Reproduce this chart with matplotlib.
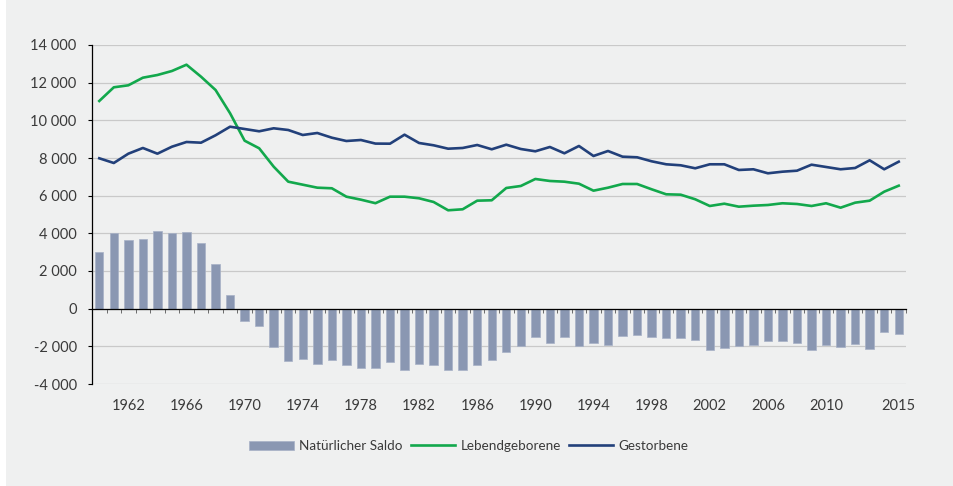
import matplotlib
matplotlib.use("Agg")
import matplotlib.pyplot as plt
from matplotlib.ticker import FuncFormatter, FixedLocator
from matplotlib.patches import Rectangle
import numpy as np

years = list(range(1960, 2016))

saldo = [3026, 4018, 3628, 3716, 4141, 3999, 4070, 3469, 2389, 726,
         -637, -938, -2053, -2761, -2655, -2920, -2726, -2991, -3167, -3150,
         -2814, -3274, -2938, -3008, -3256, -3256, -2973, -2708, -2301, -1964,
         -1487, -1823, -1522, -2000, -1841, -1947, -1469, -1398, -1487, -1575,
         -1575, -1646, -2212, -2088, -1964, -1929, -1717, -1717, -1805, -2194,
         -1911, -2035, -1858, -2141, -1239, -1327]

lebendgeborene = [11027, 11754, 11860, 12264, 12407, 12620, 12954, 12317, 11611, 10374,
                  8919, 8516, 7539, 6743, 6583, 6424, 6392, 5946, 5787, 5600,
                  5946, 5946, 5861, 5665, 5224, 5277, 5734, 5755, 6408, 6514,
                  6886, 6780, 6742, 6636, 6265, 6424, 6620, 6620, 6339, 6073,
                  6052, 5808, 5452, 5574, 5415, 5468, 5505, 5596, 5558, 5452,
                  5596, 5362, 5628, 5734, 6211, 6530]

gestorbene = [7985, 7735, 8229, 8532, 8229, 8600, 8850, 8813, 9206, 9662,
              9540, 9418, 9577, 9487, 9222, 9328, 9078, 8903, 8956, 8765,
              8760, 9238, 8797, 8675, 8494, 8532, 8691, 8463, 8707, 8478,
              8356, 8585, 8250, 8638, 8107, 8372, 8070, 8038, 7825, 7666,
              7613, 7454, 7666, 7666, 7364, 7401, 7188, 7273, 7326, 7645,
              7523, 7401, 7470, 7879, 7401, 7804]

xtick_labels = ["1962", "1966", "1970", "1974", "1978", "1982", "1986", "1990",
                "1994", "1998", "2002", "2006", "2010", "2015"]
yticks = [-4000, -2000, 0, 2000, 4000, 6000, 8000, 10000, 12000, 14000]

BG = "#eff0f0"
BAR = "#8a97b2"
GREEN = "#12a84c"
NAVY = "#22407a"
TXT = "#3a3a3a"

plt.rcParams["font.family"] = ["Lato", "DejaVu Sans"]

fig = plt.figure(figsize=(9.54, 4.86), dpi=100, facecolor=BG)
fig.patches.append(Rectangle((0, 0), 6 / 954, 1, transform=fig.transFigure,
                             facecolor="white", edgecolor="none", zorder=-1))
ax = fig.add_axes([92 / 954, 1 - 384 / 486, (906 - 92) / 954, (384 - 45) / 486])
ax.set_facecolor(BG)

x = np.arange(len(years))
h_bar = ax.bar(x, saldo, width=0.58, color=BAR, edgecolor="#a7b1c6", linewidth=0.5,
               label="Natürlicher Saldo", zorder=3)
h_g, = ax.plot(x, lebendgeborene, color=GREEN, lw=1.9, label="Lebendgeborene", zorder=4)
h_n, = ax.plot(x, gestorbene, color=NAVY, lw=1.9, label="Gestorbene", zorder=4)

ax.set_xlim(-0.5, len(years) - 0.5)
ax.set_ylim(-4000, 14000)
ax.set_yticks(yticks)
ax.yaxis.set_major_formatter(FuncFormatter(lambda v, p: f"{v:,.0f}".replace(",", " ")))
ax.grid(axis="y", color="#c9c9c9", lw=0.9, zorder=0)
ax.tick_params(axis="y", direction="out", length=3, width=0.8, color="black",
               pad=8, labelsize=10.5, labelcolor=TXT)

for s in ["top", "right"]:
    ax.spines[s].set_visible(False)
ax.spines["left"].set_color("black")
ax.spines["left"].set_linewidth(0.9)
ax.spines["bottom"].set_position(("data", 0))
ax.spines["bottom"].set_color("black")
ax.spines["bottom"].set_linewidth(0.9)
ax.spines["bottom"].set_zorder(5)

# category boundary ticks on zero line
ax.xaxis.set_major_locator(FixedLocator(np.arange(-0.5, len(years), 1.0)))
ax.tick_params(axis="x", direction="out", length=3, width=0.6, color="#555555",
               labelbottom=False)

# labels at category centers along the bottom
lab_pos = [years.index(int(t)) for t in xtick_labels]
sec = ax.secondary_xaxis(0.0)
sec.set_xticks(lab_pos)
sec.set_xticklabels(xtick_labels)
sec.tick_params(length=0, pad=11, labelsize=10.5, labelcolor=TXT)
sec.spines["bottom"].set_visible(False)

fig.legend(handles=[h_bar, h_g, h_n],
           labels=["Natürlicher Saldo", "Lebendgeborene", "Gestorbene"],
           loc="center", bbox_to_anchor=(469 / 954, 1 - 446 / 486), ncol=3,
           frameon=False, fontsize=9.7, handlelength=3.3, handleheight=0.7,
           handletextpad=0.4, columnspacing=0.6, labelcolor=TXT)

fig.savefig("out.png", dpi=100, facecolor=BG)
